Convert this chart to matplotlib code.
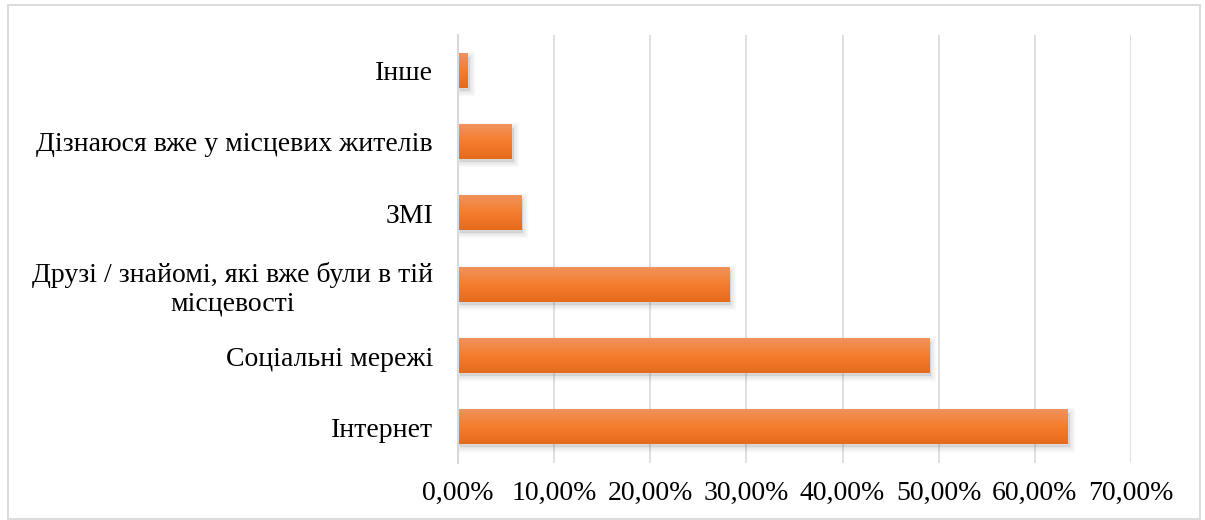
import numpy as np
import matplotlib
matplotlib.use('Agg')
import matplotlib.pyplot as plt
from matplotlib.patches import Rectangle
from matplotlib.colors import LinearSegmentedColormap
from matplotlib.ticker import FuncFormatter
import matplotlib.transforms as mtransforms

plt.rcParams['font.family'] = ['Liberation Serif', 'DejaVu Serif']

# Джерела інформації (знизу вгору) та частка респондентів, %
categories = [
    'Інтернет',
    'Соціальні мережі',
    'Друзі / знайомі, які вже були в тій\nмісцевості',
    'ЗМІ',
    'Дізнаюся вже у місцевих жителів',
    'Інше',
]
values = [63.4, 49.0, 28.2, 6.6, 5.6, 1.0]
x_ticks = [0, 10, 20, 30, 40, 50, 60, 70]

fig = plt.figure(figsize=(12.05, 5.2), dpi=100)
ax = fig.add_axes([0.3801, 0.1096, 0.5585, 0.8231])

# рамка навколо діаграми
fig.patches.append(Rectangle((8 / 1205, 1 / 520), 1192 / 1205, 514 / 520,
                             transform=fig.transFigure, fill=False,
                             edgecolor='#d9d9d9', linewidth=1.3))

bar_h = 0.48
grad_cmap = LinearSegmentedColormap.from_list(
    'orange_grad', ['#f1925c', '#f47d2c', '#e46b1c'])
grad = np.linspace(0, 1, 64).reshape(-1, 1)

y_pos = np.arange(len(categories))
for y, v in zip(y_pos, values):
    # м'яка тінь під стовпцем
    for k in range(1, 6):
        sh = mtransforms.offset_copy(ax.transData, fig=fig, x=2, y=-3, units='dots')
        ax.add_patch(Rectangle((0, y - bar_h / 2), v, bar_h, transform=sh,
                               facecolor='#666666', edgecolor='#666666',
                               linewidth=k * 1.5, alpha=0.03, zorder=2))
    # градієнтна заливка стовпця
    ax.imshow(grad, cmap=grad_cmap, aspect='auto', origin='upper',
              extent=[0, v, y - bar_h / 2, y + bar_h / 2], zorder=3,
              interpolation='bilinear')

ax.set_xlim(0, 70)
ax.set_ylim(-0.5, len(categories) - 0.5)
ax.set_xticks(x_ticks)
ax.xaxis.set_major_formatter(FuncFormatter(lambda v, p: f'{v:.2f}%'.replace('.', ',')))
ax.set_yticks(y_pos)
ax.set_yticklabels(categories, multialignment='center', linespacing=1.15)

ax.grid(axis='x', color='#d9d9d9', linewidth=1.2, zorder=0)
ax.set_axisbelow(True)
for side in ['top', 'right', 'bottom']:
    ax.spines[side].set_visible(False)
ax.spines['left'].set_color('#d9d9d9')
ax.spines['left'].set_linewidth(1.5)
ax.spines['left'].set_zorder(4)

ax.tick_params(axis='both', length=0, labelsize=20, colors='black')
ax.tick_params(axis='y', pad=18)
ax.tick_params(axis='x', pad=13)

fig.savefig('out.png', dpi=100, facecolor='white')
